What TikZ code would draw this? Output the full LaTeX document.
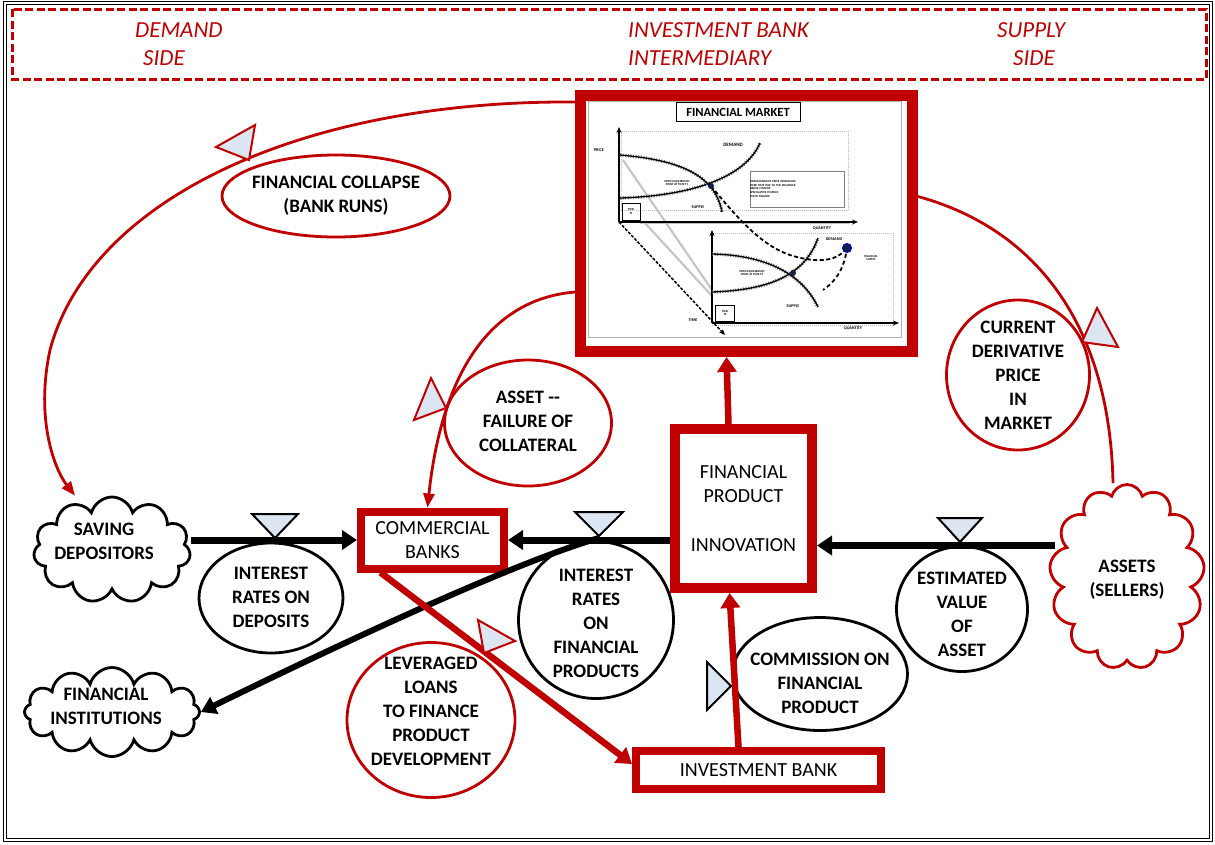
\documentclass[tikz,border=0pt]{standalone}
\usepackage{fontspec}
\setmainfont{Carlito}
\usetikzlibrary{arrows.meta,shapes.geometric,shapes.symbols,calc}
\definecolor{dred}{RGB}{192,0,0}
\definecolor{valveblue}{RGB}{220,230,242}
\definecolor{navy}{RGB}{20,30,80}
\begin{document}
\begin{tikzpicture}[x=1pt,y=-1pt,
  hdr/.style={text=dred, font=\fontsize{23}{28}\selectfont\itshape, inner sep=0pt},
  redbox/.style={draw=dred, fill=white, rectangle, align=center, inner sep=0pt, font=\fontsize{20}{24.5}\selectfont},
  ell/.style={ellipse, line width=2.8pt, fill=white, inner sep=0pt},
  cloudn/.style={cloud, cloud ignores aspect, draw=black, line width=2.8pt, fill=white, inner sep=0pt},
  etxt/.style={align=center, inner sep=0pt, font=\fontsize{19}{24}\selectfont\bfseries},
  flow/.style={line width=7pt, -{Triangle[length=15pt,width=19pt]}},
  redarrow/.style={draw=dred, line width=6.5pt, -{Triangle[length=15pt,width=19pt]}},
  redlink/.style={draw=dred, line width=2.8pt},
  bvalve/.style={draw=black, line width=2pt, fill=valveblue, line join=miter},
  rvalve/.style={draw=dred, line width=2pt, fill=valveblue, line join=miter},
  chaxis/.style={line width=1.3pt, -{Stealth[length=6pt,width=5pt]}},
  hatch/.style={line width=1.3pt, preaction={draw, gray!90!black, line width=3.4pt, dash pattern=on 1pt off 1.6pt}},
  ct/.style={font=\fontsize{4.2}{5}\selectfont\bfseries, inner sep=0pt, align=center},
  cs/.style={font=\fontsize{3}{3.7}\selectfont\bfseries, inner sep=0pt, align=center},
]
\useasboundingbox (0,0) rectangle (1215,844);
\fill[white] (0,0) rectangle (1215,844);
% outer frame
\draw[line width=1pt, double distance=2.5pt] (5,3) rectangle (1211,840);
% header
\draw[dred, line width=3pt, dash pattern=on 8pt off 3.5pt] (12,9) rectangle (1206,79);
\node[hdr, anchor=base west] (h1) at (135,37) {DEMAND};
\node[hdr, anchor=base west] (h2) at (143,65) {SIDE};
\node[hdr, anchor=base west] (h3) at (628,37) {INVESTMENT BANK};
\node[hdr, anchor=base west] (h4) at (628,65) {INTERMEDIARY};
\node[hdr, anchor=base west] (h5) at (997,37) {SUPPLY};
\node[hdr, anchor=base west] (h6) at (1013,65) {SIDE};

% ===== Financial market box =====
\node[redbox, line width=11pt, minimum width=332pt, minimum height=256pt] (fm) at (746.5,223.5) {};
\draw[gray!60, line width=1pt] (588,101) rectangle (901,337);
\node[draw, line width=0.8pt, fill=white, minimum width=124pt, minimum height=19pt, inner sep=0pt, font=\fontsize{12.5}{14}\selectfont\bfseries] (fmt) at (738,112) {FINANCIAL MARKET};
\draw[gray!55, densely dotted, line width=1pt] (621,131) rectangle (848,210);
\draw[gray!55, densely dotted, line width=1pt] (712,233) rectangle (893,325);
\draw[gray!45, line width=2.2pt] (623,160) -- (712,290);
\draw[gray!45, line width=2.2pt] (645,223) -- (712,296);
\draw[gray!50, line width=3pt] (640,222) -- (850,222);
\draw[chaxis] (619,222) -- (619,127);
\draw[chaxis] (619,222) -- (858,222);
\draw[chaxis] (712,323) -- (712,230);
\draw[chaxis] (712,323) -- (899,323);
\draw[line width=1.5pt, dash pattern=on 3pt off 1.5pt, -{Stealth[length=6pt,width=5pt]}] (619,222) -- (725,335);
\draw[hatch] (620,198) .. controls (690,196) and (745,178) .. (760,143);
\draw[hatch] (620,155) .. controls (680,160) and (715,175) .. (722,212);
\draw[hatch] (712,292) .. controls (770,290) and (805,275) .. (818,238);
\draw[hatch] (712,254) .. controls (760,255) and (800,270) .. (818,307);
\draw[line width=1.8pt, dash pattern=on 4pt off 2.5pt] (711,186) .. controls (735,215) and (760,245) .. (790,255) .. controls (815,263) and (835,262) .. (845,250);
\draw[line width=1.8pt, dash pattern=on 4pt off 3pt] (846,254) .. controls (843,270) and (835,282) .. (823,290);
\fill[navy] (711,186) circle (3pt);
\fill[navy] (793,273) circle (3pt);
\draw[blue!70!black, fill=navy, line width=1pt] (847,248) circle (4.5pt);
\node[ct] (lprice) at (599,150) {PRICE};
\node[ct, font=\fontsize{5}{6}\selectfont\bfseries] (ldem1) at (733,145) {DEMAND};
\node[cs] (leq1) at (677,183) {PRICE EQUILIBRIUM\\POINT AT TIME T1};
\node[ct] (lsup1) at (698,207) {SUPPLY};
\node[draw, line width=.6pt, minimum width=18pt, minimum height=17pt, inner sep=0pt, cs] (t1) at (631,211.5) {TIME\\T1};
\node[draw=gray, line width=.6pt, text width=94pt, minimum height=36pt, inner sep=2pt, cs, align=left] (dis) at (797,189) {DISEQUILIBRIUM PRICE INCREASING\\OVER TIME DUE TO THE SEQUENCE:\\HEDGE FINANCE\\SPECULATIVE FINANCE\\PONZI FINANCE};
\node[ct] (lq1) at (822,228) {QUANTITY};
\node[ct] (ldem2) at (834,239) {DEMAND};
\node[cs] (leq2) at (752,273) {PRICE EQUILIBRIUM\\POINT AT TIME T2};
\node[ct] (lsup2) at (793,306) {SUPPLY};
\node[draw, line width=.6pt, minimum width=19pt, minimum height=16pt, inner sep=0pt, cs] (t2) at (725,313) {TIME\\T2};
\node[ct] (ltime) at (693,320) {TIME};
\node[ct] (lq2) at (853,328) {QUANTITY};
\node[cs] (lfs) at (871,258) {FINANCIAL\\SUPPLY};

% ===== boxes =====
\node[redbox, line width=10pt, minimum width=137pt, minimum height=159pt] (fpi) at (743.5,508.5) {FINANCIAL\\PRODUCT\\[24pt]INNOVATION};
\node[redbox, line width=8pt, minimum width=143pt, minimum height=57pt] (cb) at (432.5,540) {COMMERCIAL\\BANKS};
\node[redbox, line width=8pt, minimum width=245pt, minimum height=38pt] (ib) at (758.5,770) {INVESTMENT BANK};

% ===== clouds =====
\node[cloudn, minimum width=157pt, minimum height=106pt, cloud puffs=11] (sd) at (112,550) {};
\node[etxt] (sd-t) at (104,541) {SAVING\\DEPOSITORS};
\node[cloudn, minimum width=175pt, minimum height=89pt, cloud puffs=12] (fi) at (112,712) {};
\node[etxt] (fi-t) at (106,706) {FINANCIAL\\INSTITUTIONS};
\node[cloudn, draw=dred, minimum width=155pt, minimum height=185pt, cloud puffs=13] (as) at (1127,577) {};
\node[etxt] (as-t) at (1127,580) {ASSETS\\(SELLERS)};

% ===== ellipses =====
\node[ell, draw=dred, minimum width=228pt, minimum height=82pt] (coll) at (336,196) {};
\node[etxt] (coll-t) at (coll) {FINANCIAL COLLAPSE\\(BANK RUNS)};
\node[ell, draw=dred, minimum width=167pt, minimum height=126pt] (asf) at (528,423) {};
\node[etxt] (asf-t) at (528,421) {ASSET -{}-\\FAILURE OF\\COLLATERAL};
\node[ell, draw=dred, minimum width=143pt, minimum height=150pt] (cur) at (1018,375) {};
\node[etxt] (cur-t) at (cur) {CURRENT\\DERIVATIVE\\PRICE\\IN\\MARKET};
\node[ell, draw=black, minimum width=144pt, minimum height=110pt] (ird) at (271,598) {};
\node[etxt] (ird-t) at (271,597) {INTEREST\\RATES ON\\DEPOSITS};
\node[ell, draw=black, minimum width=155pt, minimum height=157pt] (irf) at (596,620) {};
\node[etxt] (irf-t) at (596,623) {INTEREST\\RATES\\ON\\FINANCIAL\\PRODUCTS};
\node[ell, draw=black, minimum width=131pt, minimum height=125pt] (est) at (962,609) {};
\node[etxt] (est-t) at (962,614) {ESTIMATED\\VALUE\\OF\\ASSET};
\node[ell, draw=black, minimum width=175pt, minimum height=113pt] (com) at (820,674) {};
\node[etxt] (com-t) at (820,683) {COMMISSION ON\\FINANCIAL\\PRODUCT};
\node[ell, draw=dred, minimum width=168pt, minimum height=155pt] (lev) at (431,720) {};
\node[etxt] (lev-t) at (431,711) {LEVERAGED\\LOANS\\TO FINANCE\\PRODUCT\\DEVELOPMENT};

% ===== connectors =====
\coordinate (v1) at (275,538);
\coordinate (v2) at (599,538);
\coordinate (v3) at (960,545);
\coordinate (f3e) at ([yshift=-37pt]fpi.east);
\draw[flow] (sd.east |- cb.west) -- (cb.west);
\draw[flow] (fpi.west |- cb.east) -- (cb.east);
\draw[flow] ([xshift=4pt]as.west |- f3e) -- (f3e);
\draw[line width=6pt, -{Triangle[length=15pt,width=18pt]}] (v2) .. controls (540,555) and (420,605) .. (fi.east);
\draw[redarrow] ([xshift=-15pt]fpi.north) -- ([xshift=-20pt]fm.south);
\draw[redarrow] ([xshift=-20pt]ib.north) -- ([xshift=-14pt]fpi.south);
\draw[redarrow] ([xshift=-52pt]cb.south) -- ([yshift=6pt]ib.west);
\draw[redlink, -{Triangle[length=14pt,width=11pt]}] ([yshift=-12pt]fm.north west) .. controls (300,100) and (90,200) .. (50,350) .. controls (35,420) and (55,470) .. ([xshift=-37pt]sd.north);
\draw[redlink, -{Triangle[length=14pt,width=11pt]}] ([yshift=-68.5pt]fm.west) .. controls (480,300) and (440,390) .. ([xshift=-5pt]cb.north);
\draw[redlink] ([yshift=27pt]fm.east) .. controls (1040,230) and (1110,330) .. ([xshift=-14pt]as.north);
% valves
\draw[bvalve] (v1) -- ++(-23,-24) -- ++(46,0) -- cycle;
\draw[bvalve] ([yshift=2pt]v2) -- ++(-24,-24) -- ++(48,0) -- cycle;
\draw[bvalve] ([yshift=3pt]v3) -- ++(-22,-24) -- ++(44,0) -- cycle;
\draw[bvalve] (707,662) -- (731,686) -- (707,710) -- cycle;
\draw[rvalve] (478,620) -- (515,641) -- (484,653) -- cycle;
\draw[rvalve] (255,125) -- (216,147) -- (249,160) -- cycle;
\draw[rvalve] (431,378) -- (414,420) -- (446,408) -- cycle;
\draw[rvalve] (1097,308) -- (1082,342) -- (1118,347) -- cycle;
\end{tikzpicture}
\end{document}
